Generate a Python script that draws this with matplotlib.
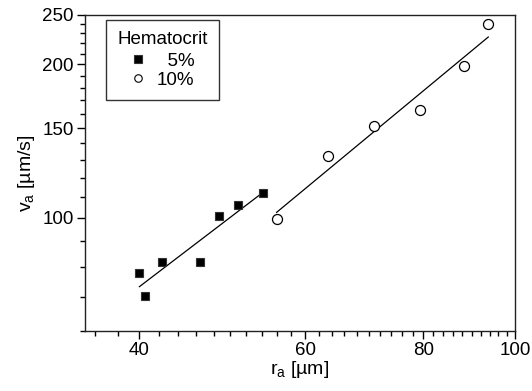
import numpy as np
import matplotlib
matplotlib.use("Agg")
import matplotlib.pyplot as plt
from matplotlib.lines import Line2D
from matplotlib.ticker import FixedLocator, NullFormatter, FixedFormatter

plt.rcParams['font.family'] = ['Liberation Sans', 'DejaVu Sans']

r5 = [40.07, 40.63, 42.34, 46.4, 48.68, 50.98, 54.2]
v5 = [77.8, 70.3, 82.0, 81.8, 100.9, 105.9, 111.7]
r10 = [55.96, 63.5, 70.98, 79.3, 88.4, 93.7]
v10 = [99.3, 132.5, 151.5, 162.6, 198.4, 240.5]

xticks = [40, 60, 80, 100]
yticks = [100, 150, 200, 250]

FS = 13.5

fig = plt.figure(figsize=(5.32, 3.91), dpi=100)
ax = fig.add_axes([85/532, 1 - 331/391, (515-85)/532, (331-15)/391])
ax.set_xscale('log')
ax.set_yscale('log')
ax.set_xlim(35.1, 100)
ax.set_ylim(60, 250)

for r, v in [(r5, v5), (r10, v10)]:
    lr, lv = np.log(r), np.log(v)
    b, a = np.polyfit(lr, lv, 1)
    xs = np.array([min(r), max(r)])
    ax.plot(xs, np.exp(a) * xs ** b, color='black', lw=0.9, zorder=2)

ax.plot(r5, v5, 's', ms=6.2, mfc='black', mec='#333333', mew=0.8, ls='none', zorder=3)
ax.plot(r10, v10, 'o', ms=7.2, mfc='white', mec='black', mew=0.9, ls='none', zorder=3)

ax.xaxis.set_major_locator(FixedLocator(xticks))
ax.xaxis.set_major_formatter(FixedFormatter([str(t) for t in xticks]))
ax.xaxis.set_minor_locator(FixedLocator([x for x in range(36, 100, 2) if x not in xticks]))
ax.xaxis.set_minor_formatter(NullFormatter())
ax.yaxis.set_major_locator(FixedLocator(yticks))
ax.yaxis.set_major_formatter(FixedFormatter([str(t) for t in yticks]))
ax.yaxis.set_minor_locator(FixedLocator([y for y in range(60, 250, 10) if y not in yticks]))
ax.yaxis.set_minor_formatter(NullFormatter())

ax.tick_params(which='major', direction='out', length=6, width=1, labelsize=FS, top=False, right=False, pad=2)
ax.tick_params(which='minor', direction='out', length=3.5, width=1, top=False, right=False)
for s in ax.spines.values():
    s.set_linewidth(1)
    s.set_color('#222222')

ax.set_xlabel('r$_\\mathregular{a}$ [µm]', fontsize=14, labelpad=0)
ax.set_ylabel('v$_\\mathregular{a}$ [µm/s]', fontsize=14, labelpad=4)

handles = [
    Line2D([], [], marker='s', ms=5.8, mfc='black', mec='#333333', mew=0.8, ls='none'),
    Line2D([], [], marker='o', ms=5.4, mfc='white', mec='black', mew=0.8, ls='none'),
]
leg = ax.legend(handles, ['  5%', '10%'], title='Hematocrit', loc='upper left',
                bbox_to_anchor=(21/430, 1 - 5/316),
                fontsize=FS, title_fontsize=FS, frameon=True, fancybox=False,
                handlelength=0.8, handletextpad=0.6, borderpad=0.6, labelspacing=0.1,
                borderaxespad=0)
leg._legend_box.sep = 3
leg.get_frame().set_edgecolor('black')
leg.get_frame().set_linewidth(1)

fig.savefig('out.png', dpi=100)
